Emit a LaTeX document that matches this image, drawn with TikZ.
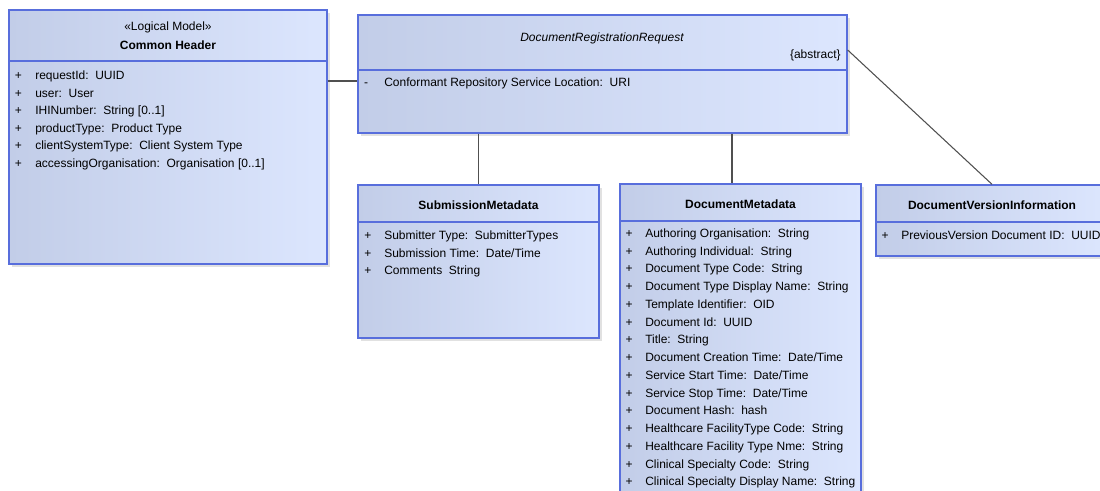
\documentclass[tikz,border=0pt]{standalone}
\usepackage{fontspec}
\setmainfont{Liberation Sans}
\usetikzlibrary{fit,shadows}
\definecolor{cboxL}{RGB}{194,205,232}
\definecolor{cboxR}{RGB}{220,230,254}
\definecolor{cborder}{RGB}{88,110,220}
\definecolor{cline}{RGB}{80,80,80}
\definecolor{cshadow}{RGB}{225,225,225}
\tikzset{
  classbox/.style={draw=cborder, line width=1pt, left color=cboxL, right color=cboxR, inner sep=0pt,
    drop shadow={shadow xshift=2.2pt, shadow yshift=-2.2pt, fill=cshadow, opacity=1}},
  sepline/.style={draw=cborder, line width=1pt},
  txt/.style={inner sep=0pt, font=\fontsize{9}{10}\selectfont},
  attr/.style={txt, anchor=base west},
  vis/.style={txt, anchor=base},
  title/.style={txt, anchor=base, font=\fontsize{9}{10}\selectfont\bfseries},
  conn/.style={draw=cline, line width=0.8pt}
}
\begin{document}
\begin{tikzpicture}[x=0.75pt,y=-0.75pt]
\useasboundingbox (0,0) rectangle (1100,491);
\clip (0,0) rectangle (1100,491);

% Common Header
\node[classbox, fit={(9,10) (327,264)}] (ch) {};
\draw[sepline] (9,61) -- (327,61);
\node[vis] (chst) at (168,31) {«Logical Model»};
\node[title] (chn) at (168,50) {Common Header};
\foreach \t [count=\i from 0] in {requestId:\ \ UUID, user:\ \ User, IHINumber:\ \ String [0..1], productType:\ \ Product Type, clientSystemType:\ \ Client System Type, accessingOrganisation:\ \ Organisation [0..1]}{
  \node[vis] (chp\i) at (18.5,80+17.5*\i) {+};
  \node[attr] (cha\i) at (35,80+17.5*\i) {\t};
}

% DocumentRegistrationRequest
\node[classbox, fit={(358,15) (847,133)}] (drr) {};
\draw[sepline] (358,70) -- (847,70);
\node[txt, anchor=base, font=\fontsize{9}{10}\selectfont\itshape] (drrn) at (602,42) {DocumentRegistrationRequest};
\node[txt, anchor=base east] (drrab) at (841,59) {\{abstract\}};
\node[vis] (drrm) at (366,87) {-};
\node[attr] (drra) at (384,87) {Conformant Repository Service Location:\ \ URI};

% SubmissionMetadata
\node[classbox, fit={(358,185) (599,338)}] (sm) {};
\draw[sepline] (358,222) -- (599,222);
\node[title] (smn) at (478.5,210) {SubmissionMetadata};
\foreach \t [count=\i from 0] in {Submitter Type:\ \ SubmitterTypes, Submission Time:\ \ Date/Time, Comments\ \ String}{
  \node[vis] (smp\i) at (368,240+17.5*\i) {+};
  \node[attr] (sma\i) at (384,240+17.5*\i) {\t};
}

% DocumentMetadata
\node[classbox, fit={(620,184) (861,505)}] (dm) {};
\draw[sepline] (620,221) -- (861,221);
\node[title] (dmn) at (740.5,209) {DocumentMetadata};
\foreach \t [count=\i from 0] in {Authoring Organisation:\ \ String, Authoring Individual:\ \ String, Document Type Code:\ \ String, Document Type Display Name:\ \ String, Template Identifier:\ \ OID, Document Id:\ \ UUID, Title:\ \ String, Document Creation Time:\ \ Date/Time, Service Start Time:\ \ Date/Time, Service Stop Time:\ \ Date/Time, Document Hash:\ \ hash, Healthcare FacilityType Code:\ \ String, Healthcare Facility Type Nme:\ \ String, Clinical Specialty Code:\ \ String, Clinical Specialty Display Name:\ \ String}{
  \node[vis] (dmp\i) at (629,237.5+17.75*\i) {+};
  \node[attr] (dma\i) at (645,237.5+17.75*\i) {\t};
}

% DocumentVersionInformation
\node[classbox, fit={(876,185) (1108,256)}] (dvi) {};
\draw[sepline] (876,222) -- (1108,222);
\node[title] (dvin) at (992,210) {DocumentVersionInformation};
\node[vis] (dvip) at (885,239.5) {+};
\node[attr] (dvia) at (901,239.5) {PreviousVersion Document ID:\ \ UUID};

% connectors
\coordinate (y81) at (0,81);
\coordinate (y50) at (0,50);
\coordinate (x732) at (732,0);
\draw[conn] (ch.east |- y81) -- (drr.west |- y81);
\draw[conn] (sm.north |- drr.south) -- (sm.north);
\draw[conn] (x732 |- drr.south) -- (x732 |- dm.north);
\draw[conn] (drr.east |- y50) -- (dvi.north);
\end{tikzpicture}
\end{document}
